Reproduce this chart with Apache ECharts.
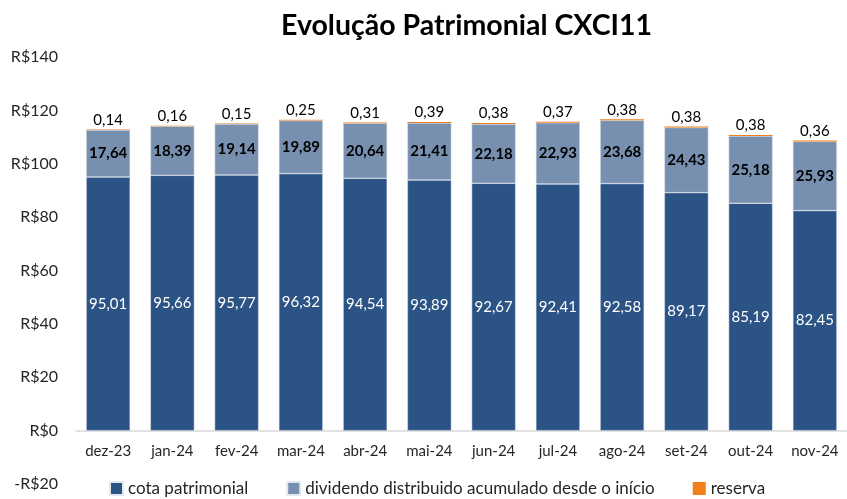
<!DOCTYPE html>
<html>
<head>
<meta charset="utf-8">
<script src="https://cdn.jsdelivr.net/npm/echarts@6/dist/echarts.min.js"></script>
<style>
  html, body { margin: 0; padding: 0; background: #fff; }
  #chart { width: 847px; height: 499px; }
</style>
</head>
<body>
<div id="chart"></div>
<script>
const months = ["dez-23", "jan-24", "fev-24", "mar-24", "abr-24", "mai-24",
  "jun-24", "jul-24", "ago-24", "set-24", "out-24", "nov-24"];
const cotaPatrimonial = [95.01, 95.66, 95.77, 96.32, 94.54, 93.89, 92.67, 92.41, 92.58, 89.17, 85.19, 82.45];
const dividendoAcumulado = [17.64, 18.39, 19.14, 19.89, 20.64, 21.41, 22.18, 22.93, 23.68, 24.43, 25.18, 25.93];
const reserva = [0.14, 0.16, 0.15, 0.25, 0.31, 0.39, 0.38, 0.37, 0.38, 0.38, 0.38, 0.36];

const font = "Lato";
const brl = v => v.toFixed(2).replace(".", ",");

// plot area: value 140 at y=57, value -20 at y=484
const gridTop = 57, gridBottom = 15, chartH = 499;
const yMin = -20, yMax = 140;
// move the category axis up to the zero line
const zeroOffset = (chartH - gridTop - gridBottom) * (0 - yMin) / (yMax - yMin);

const chart = echarts.init(document.getElementById("chart"));
chart.setOption({
  textStyle: { fontFamily: font },
  animation: false,
  title: {
    text: "Evolução Patrimonial CXCI11",
    left: 276,
    top: 6,
    textStyle: { fontFamily: font, fontSize: 28.5, fontWeight: "bold", color: "#000" }
  },
  legend: {
    bottom: -3,
    left: 104,
    itemWidth: 13,
    itemHeight: 13,
    itemGap: 38,
    icon: "rect",
    textStyle: { fontFamily: font, fontSize: 17, color: "#262626" },
    data: ["cota patrimonial", "dividendo distribuido acumulado desde o início", "reserva"]
  },
  grid: { left: 76, right: -10, top: gridTop, bottom: gridBottom },
  xAxis: {
    type: "category",
    data: months,
    position: "bottom",
    offset: -zeroOffset,
    axisLine: { onZero: false, lineStyle: { color: "#D9D9D9", width: 1.5 } },
    axisTick: { show: false },
    axisLabel: { fontFamily: font, fontSize: 15, color: "#262626", margin: 13 }
  },
  yAxis: {
    type: "value",
    min: yMin,
    max: yMax,
    interval: 20,
    splitLine: { show: false },
    axisLine: { show: false },
    axisTick: { show: false },
    axisLabel: {
      fontFamily: font, fontSize: 16, color: "#262626", margin: 18,
      formatter: v => (v < 0 ? "-R$" + Math.abs(v) : "R$" + v)
    }
  },
  series: [
    {
      name: "cota patrimonial",
      type: "bar",
      stack: "total",
      barWidth: 44,
      data: cotaPatrimonial,
      itemStyle: { color: "#2C5385", borderColor: "#E3E8EF", borderWidth: 0.5 },
      label: {
        show: true, position: "inside", color: "#fff",
        fontFamily: font, fontSize: 15, formatter: p => brl(p.value)
      }
    },
    {
      name: "dividendo distribuido acumulado desde o início",
      type: "bar",
      stack: "total",
      data: dividendoAcumulado,
      itemStyle: { color: "#7890B0", borderColor: "#E3E8EF", borderWidth: 0.5 },
      label: {
        show: true, position: "inside", color: "#000", fontWeight: "bold",
        fontFamily: font, fontSize: 15, formatter: p => brl(p.value)
      }
    },
    {
      name: "reserva",
      type: "bar",
      stack: "total",
      data: reserva,
      itemStyle: { color: "#F07F1C" },
      label: {
        show: true, position: "top", distance: 2, color: "#000",
        fontFamily: font, fontSize: 15, formatter: p => brl(p.value)
      }
    }
  ]
});
</script>
</body>
</html>
